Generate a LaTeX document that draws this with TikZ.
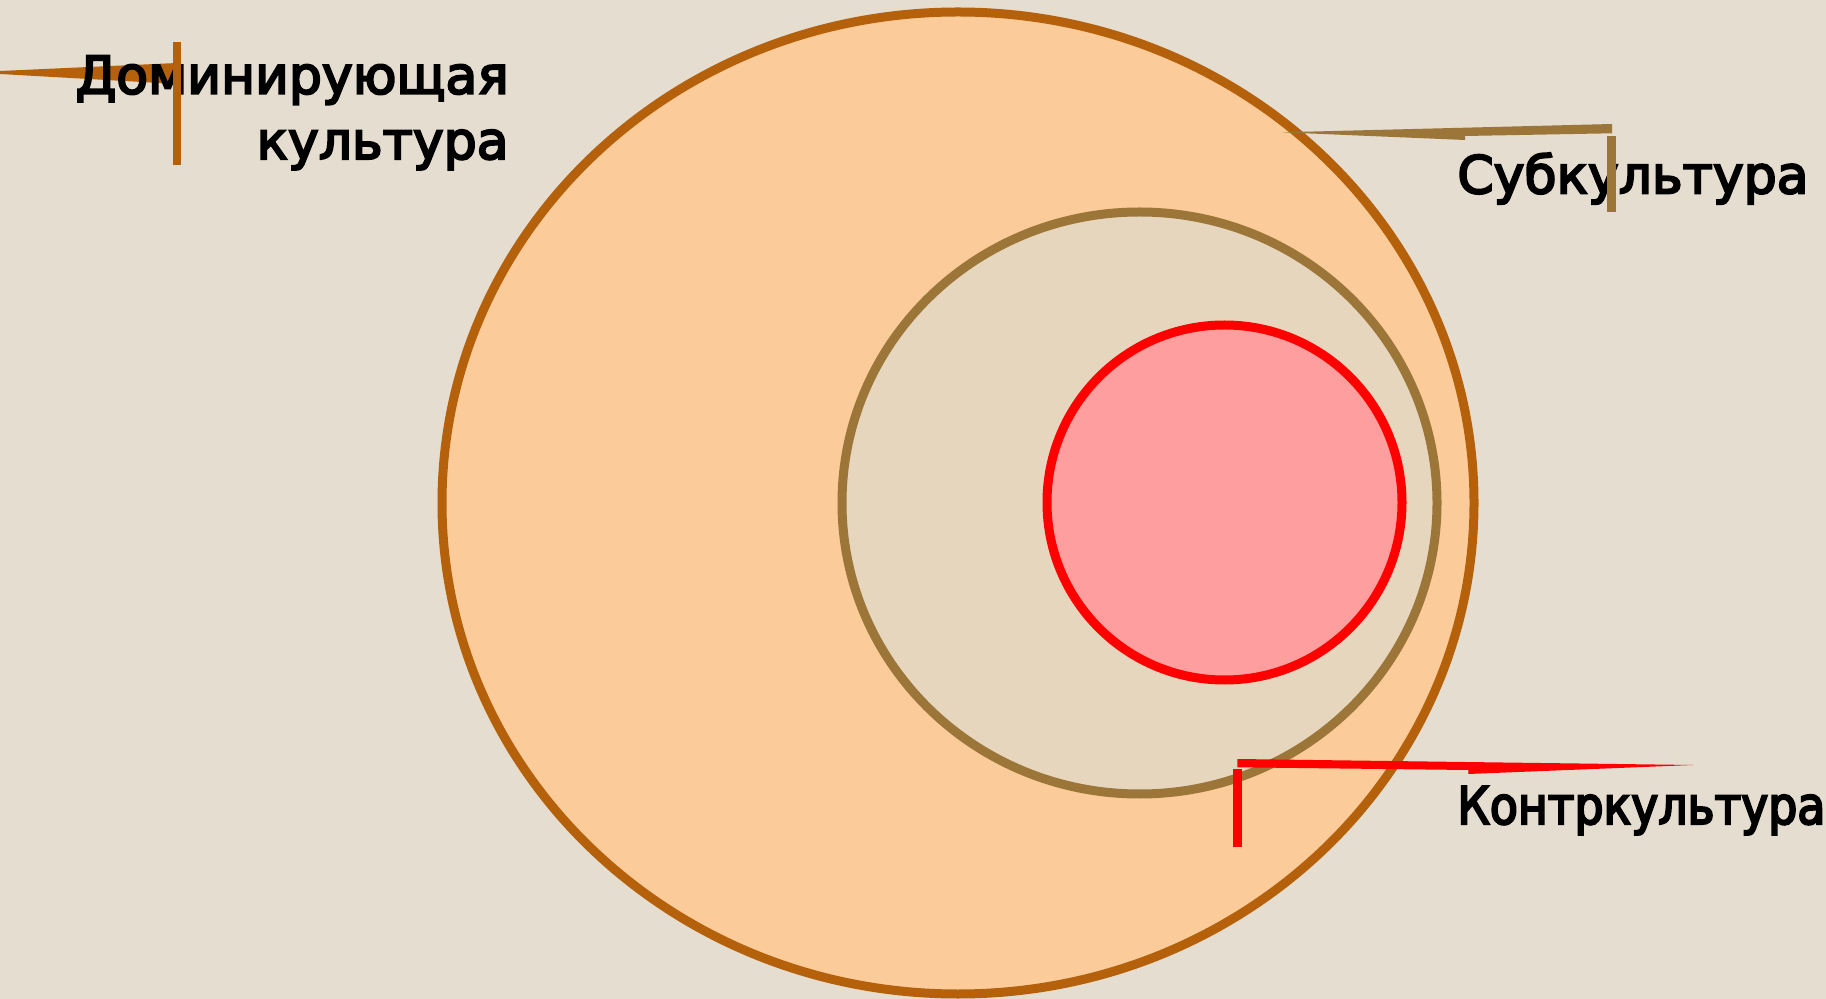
\documentclass[tikz,border=0pt]{standalone}
\usepackage{fontspec}
\setmainfont{DejaVu Sans}
\newfontfamily\calloutfont{DejaVu Sans}[FakeBold=4]
\newfontfamily\calloutnarrow{DejaVu Sans}[FakeBold=4,FakeStretch=0.88]
\usepackage{xcolor}
\usetikzlibrary{positioning}
\definecolor{PageBg}{RGB}{228,221,208}
\definecolor{DominantFill}{RGB}{251,203,154}
\definecolor{DominantLine}{RGB}{181,96,10}
\definecolor{SubFill}{RGB}{230,214,190}
\definecolor{SubLine}{RGB}{156,117,57}
\definecolor{CounterFill}{RGB}{255,158,158}
\definecolor{CounterLine}{RGB}{255,0,0}

\begin{document}
\begin{tikzpicture}[x=0.5pt,y=-0.5pt,
    ring/.style={line width=4.5pt},
    callout text/.style={font=\calloutfont\fontsize{26}{32}\selectfont,inner sep=0pt}]
        % Page
        \fill[PageBg] (0,0) rectangle (1826,999);
        \useasboundingbox (0,0) rectangle (1826,999);
        % Rings
        \draw[ring,DominantLine,fill=DominantFill] (958,503) ellipse [x radius=516, y radius=491];
        \draw[ring,SubLine,fill=SubFill] (1139.5,503) ellipse [x radius=297.5, y radius=291];
        \draw[ring,CounterLine,fill=CounterFill] (1224.5,502.5) circle (177.5);
        % Callout pointers
        \fill[DominantLine] (0,71) -- (177,63) -- (177,84) -- (0,74) -- cycle;
        \fill[SubLine] (1282,132.3) -- (1612,124) -- (1612,133.3) -- (1465,136) -- (1465,140) -- cycle;
        \fill[CounterLine] (1237.3,759) -- (1693,765) -- (1468.3,774) -- (1468.3,770) -- (1237.3,767.3) -- cycle;
        % Labels
        \node[callout text,anchor=base east] (dominant) at (509,93.7) {Доминирующая};
        \node[callout text,anchor=base east] (dominant2) at (509,159) {культура};
        \node[callout text,anchor=base west] (sub) at (1457,193.3) {Субкультура};
        \node[callout text,font=\calloutnarrow\fontsize{26}{32}\selectfont,anchor=base west] (counter) at (1457,824) {Контркультура};
        % Accent bars
        \fill[DominantLine] (172.5,42) rectangle (181,165);
        \fill[SubLine] (1607.3,135.7) rectangle (1616,212.3);
        \fill[CounterLine] (1233.3,769.3) rectangle (1242,846.7);
      \end{tikzpicture}
\end{document}
